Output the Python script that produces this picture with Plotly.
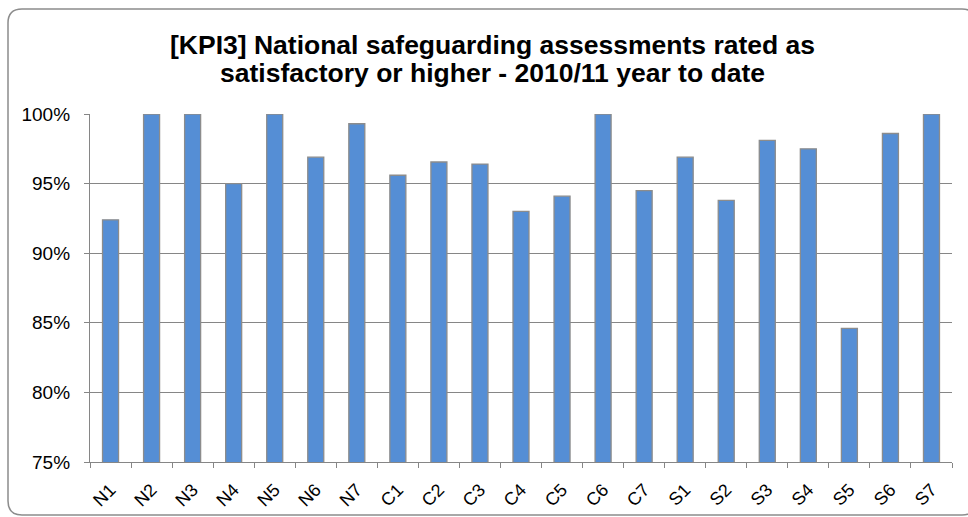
import plotly.graph_objects as go

# ---- data ----
categories = ["N1", "N2", "N3", "N4", "N5", "N6", "N7",
              "C1", "C2", "C3", "C4", "C5", "C6", "C7",
              "S1", "S2", "S3", "S4", "S5", "S6", "S7"]
values = [0.924, 1.000, 1.000, 0.950, 1.000, 0.969, 0.993,
          0.956, 0.9655, 0.964, 0.930, 0.941, 1.000, 0.945,
          0.969, 0.938, 0.981, 0.975, 0.846, 0.986, 1.000]
title_lines = ["[KPI3] National safeguarding assessments rated as",
               "satisfactory or higher - 2010/11 year to date"]
y_ticks = [0.75, 0.80, 0.85, 0.90, 0.95, 1.00]
y_tick_labels = ["75%", "80%", "85%", "90%", "95%", "100%"]

# ---- layout geometry (pixels) ----
W, H = 968, 517
ML, MR, MT, MB = 90, 16, 114, 55
PW, PH = W - ML - MR, H - MT - MB

def px(x):
    return (x - ML) / PW

def py(y):
    return (H - MB - y) / PH

GRID = "#868686"
FONT = "Liberation Sans, Arial, sans-serif"

fig = go.Figure()
fig.add_trace(go.Bar(
    x=categories, y=values,
    marker=dict(color="#558ED5", line=dict(color="#8C8C8C", width=1.3)),
    hoverinfo="x+y",
))

# rounded border around the chart
x0, x1, y0, y1, r = 8, 976, 9, 515, 14
path = (f"M {px(x0 + r)},{py(y0)} L {px(x1 - r)},{py(y0)} "
        f"Q {px(x1)},{py(y0)} {px(x1)},{py(y0 + r)} "
        f"L {px(x1)},{py(y1 - r)} Q {px(x1)},{py(y1)} {px(x1 - r)},{py(y1)} "
        f"L {px(x0 + r)},{py(y1)} Q {px(x0)},{py(y1)} {px(x0)},{py(y1 - r)} "
        f"L {px(x0)},{py(y0 + r)} Q {px(x0)},{py(y0)} {px(x0 + r)},{py(y0)} Z")
fig.add_shape(type="path", path=path, xref="paper", yref="paper",
              line=dict(color="#8C8C8C", width=1.5), layer="below")

title_y = [45, 73]
for line, yy in zip(title_lines, title_y):
    fig.add_annotation(text=f"<b>{line}</b>", x=px(492), y=py(yy),
                       xref="paper", yref="paper", showarrow=False,
                       xanchor="center", yanchor="middle",
                       font=dict(family=FONT, size=26.5, color="#000000"))

fig.update_layout(
    width=W, height=H,
    margin=dict(l=ML, r=MR, t=MT, b=MB),
    paper_bgcolor="white", plot_bgcolor="white",
    showlegend=False,
    bargap=0.61,
    font=dict(family=FONT, color="#000000"),
    xaxis=dict(
        type="category",
        automargin=False,
        tickson="boundaries",
        ticks="outside", ticklen=5, tickcolor=GRID, tickwidth=1.3,
        showline=True, linecolor=GRID, linewidth=1.3,
        showgrid=False,
        tickangle=-45,
        ticklabelstandoff=9,
        tickfont=dict(family=FONT, size=18, color="#000000"),
    ),
    yaxis=dict(
        automargin=False,
        range=[0.75, 1.0],
        tickvals=y_ticks, ticktext=y_tick_labels,
        ticks="outside", ticklen=5, tickcolor=GRID, tickwidth=1.3,
        showline=True, linecolor=GRID, linewidth=1.3,
        showgrid=True, gridcolor=GRID, gridwidth=1.3,
        zeroline=False,
        ticklabelstandoff=10,
        tickfont=dict(family=FONT, size=19, color="#000000"),
    ),
)

fig.write_html("out.html", config={"displayModeBar": False},
               post_script="document.body.style.margin='0px';")
